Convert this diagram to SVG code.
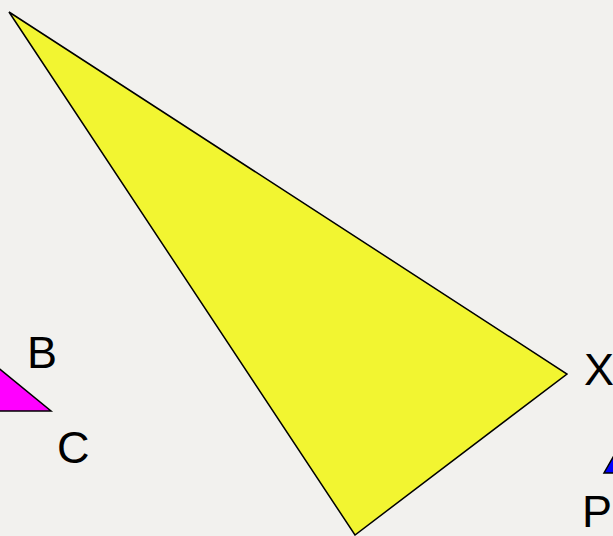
<svg xmlns="http://www.w3.org/2000/svg" width="613" height="536" viewBox="0 0 613 536">
<style>
.tri{stroke:#000;stroke-width:1.5;stroke-linejoin:miter}
.lbl{font-family:"Liberation Sans",Arial,sans-serif;font-size:45px;fill:#000}
</style>
<rect width="613" height="536" fill="#f2f1ee"/>
<g id="yellow"><polygon class="tri" fill="#f2f531" points="9,12 567,374 355,535"/></g>
<g id="magenta"><polygon class="tri" fill="#ff00ff" points="-60,320 51,411 -60,411"/></g>
<g id="blue"><polygon class="tri" fill="#0000ff" points="620,445 630,473 604,473"/></g>
<g id="labels">
<text class="lbl" x="27" y="368">B</text>
<text class="lbl" x="57" y="463">C</text>
<text class="lbl" x="584" y="385">X</text>
<text class="lbl" x="582" y="527">P</text>
</g>
</svg>
